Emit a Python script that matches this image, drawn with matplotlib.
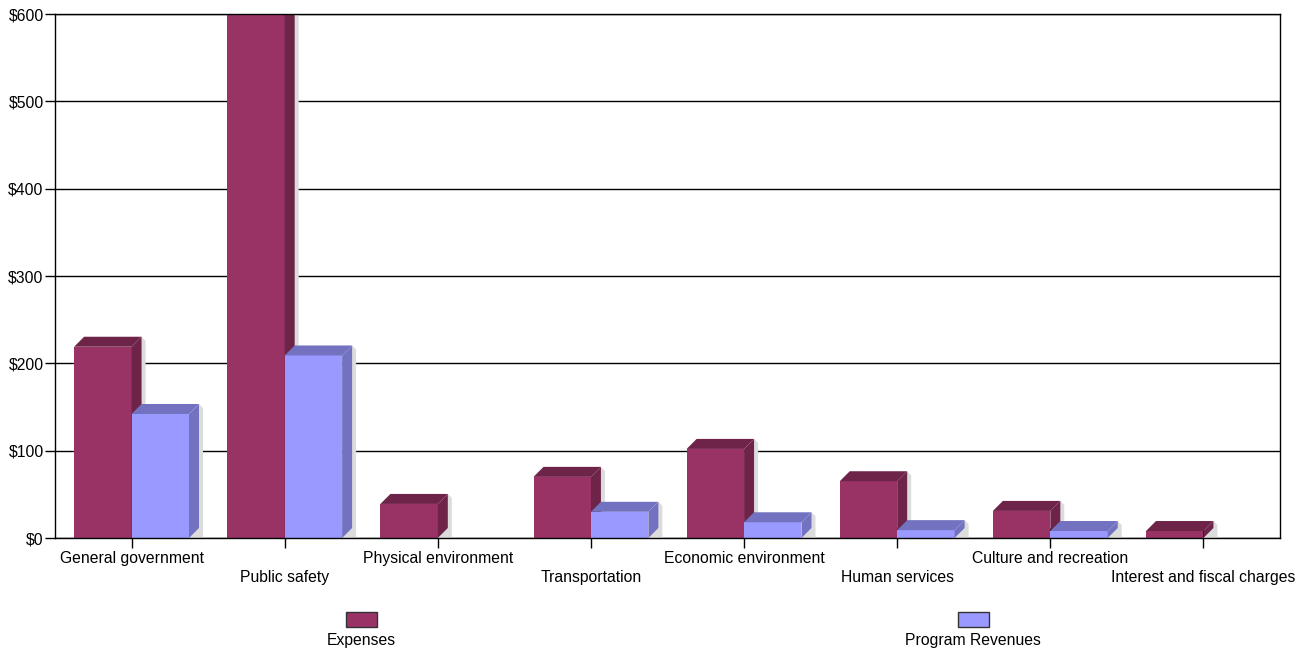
import matplotlib
matplotlib.use("Agg")
import matplotlib.pyplot as plt
from matplotlib.patches import Polygon, Rectangle
from matplotlib.ticker import FuncFormatter, MultipleLocator

categories = [
    "General government",
    "Public safety",
    "Physical environment",
    "Transportation",
    "Economic environment",
    "Human services",
    "Culture and recreation",
    "Interest and fiscal charges",
]
expenses = [219, 680, 39, 70, 102, 65, 31, 8]
program_revenues = [142, 209, 0, 30, 18, 9, 8, 0]
series_names = ["Expenses", "Program Revenues"]

front_colors = ["#993366", "#9999FF"]
dark_colors = ["#6E2449", "#7272C0"]
shadow_color = "#DCDCDC"

W, H = 1304, 652
fig = plt.figure(figsize=(W / 100, H / 100), dpi=100)
plt.rcParams["font.family"] = ["Liberation Sans", "DejaVu Sans"]
fs = 11.3

ax_left, ax_right, ax_top, ax_bottom = 55, 1280, 14, 538
ax = fig.add_axes([ax_left / W, (H - ax_bottom) / H,
                   (ax_right - ax_left) / W, (ax_bottom - ax_top) / H])

n = len(categories)
ymax = 600
ax.set_xlim(-0.5, n - 0.5)
ax.set_ylim(0, ymax)

# pixel -> data scale factors for the 3D depth offset
px_x = n / (ax_right - ax_left)
px_y = ymax / (ax_bottom - ax_top)
depth_px = 10
dx, dy = depth_px * px_x, depth_px * px_y
sh = 4  # shadow width in px
sx, sy = sh * px_x, sh * px_y

bar_w = 0.375


def draw_bar(x0, h, front, dark, z):
    if h <= 0:
        return
    x1 = x0 + bar_w
    # soft shadow behind the side face
    ax.add_patch(Polygon([(x1, 0), (x1 + dx + sx, 0), (x1 + dx + sx, h + dy - sy),
                          (x1 + dx, h + dy)], closed=True,
                         facecolor=shadow_color, edgecolor="none", zorder=z))
    ax.add_patch(Rectangle((x0, 0), bar_w, h, facecolor=front,
                           edgecolor="none", zorder=z + 0.1))
    ax.add_patch(Polygon([(x1, 0), (x1 + dx, dy), (x1 + dx, h + dy), (x1, h)],
                         closed=True, facecolor=dark, edgecolor="none",
                         zorder=z + 0.2))
    ax.add_patch(Polygon([(x0, h), (x0 + dx, h + dy), (x1 + dx, h + dy), (x1, h)],
                         closed=True, facecolor=dark, edgecolor="none",
                         zorder=z + 0.2))


for i in range(n):
    base = 2 + i
    draw_bar(i - bar_w, expenses[i], front_colors[0], dark_colors[0], base)
    draw_bar(i, program_revenues[i], front_colors[1], dark_colors[1], base + 0.5)

# grid and frame
ax.yaxis.set_major_locator(MultipleLocator(100))
ax.grid(axis="y", color="black", linewidth=1.0, zorder=1)
ax.set_axisbelow(True)
for s in ax.spines.values():
    s.set_color("black")
    s.set_linewidth(1.0)
    s.set_zorder(30)

ax.yaxis.set_major_formatter(FuncFormatter(lambda v, p: f"${v:.0f}"))
ax.tick_params(axis="y", direction="out", length=7.2, width=1, pad=1,
               labelsize=fs, colors="black")

ax.set_xticks(range(n))
ax.set_xticklabels([])
ax.tick_params(axis="x", direction="inout", length=14.4, width=1,
               colors="black")
for t in ax.xaxis.get_major_ticks():
    t.tick1line.set_zorder(40)

# category labels, staggered over two rows
for i, c in enumerate(categories):
    off = -25 if i % 2 == 0 else -44
    ax.annotate(c, xy=(i, 0), xycoords=("data", "axes fraction"),
                xytext=(0, off), textcoords="offset pixels",
                ha="center", va="baseline", fontsize=fs, annotation_clip=False)

# legend
for j, (name, col) in enumerate(zip(series_names, [front_colors[0], front_colors[1]])):
    cx = [361, 973][j]
    fig.add_artist(Rectangle(((cx - 15) / W, (H - 627) / H), 31 / W, 15 / H,
                             transform=fig.transFigure, facecolor=col,
                             edgecolor="#333333", linewidth=1))
    fig.text(cx / W, (H - 645) / H, name, ha="center", va="baseline", fontsize=fs)

fig.savefig("out.png", dpi=100)
